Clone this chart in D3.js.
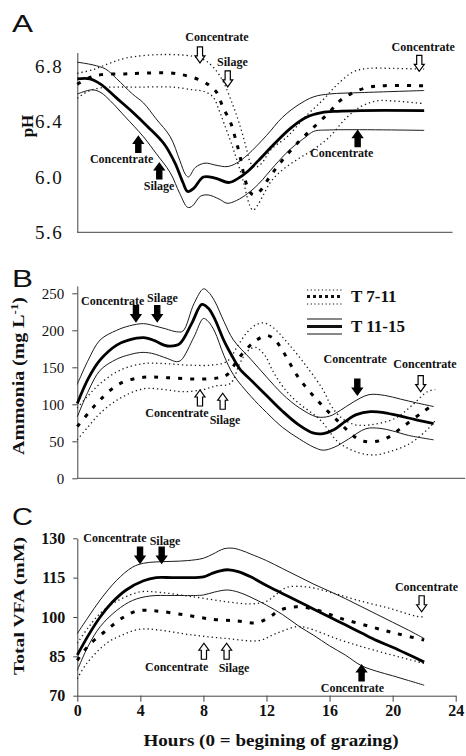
<!DOCTYPE html>
<html>
<head>
<meta charset="utf-8">
<title>Rumen pH, ammonia and VFA</title>
<script src="https://cdnjs.cloudflare.com/ajax/libs/d3/7.8.5/d3.min.js"></script>
<style>
  body { margin: 0; background: #fff; }
  svg text { font-family: "Liberation Serif", "Times New Roman", serif; fill: #111; }
  .domain, .tick line { stroke: #444; }
</style>
</head>
<body>
<svg id="chart" width="466" height="756"></svg>
<script>
// ---- data: [hour, value] ----
// A: pH
const phT1115Mean = [[0,6.71],[0.8,6.71],[1.5,6.67],[2.5,6.57],[3.5,6.47],[4.5,6.36],[5.5,6.24],[6.2,6.1],[6.7,5.96],[7,5.895],[7.4,5.92],[8,6.0],[8.8,5.99],[9.6,5.96],[10.2,5.99],[10.8,6.04],[11.5,6.12],[12.5,6.24],[13.5,6.35],[14.5,6.43],[15.5,6.465],[16.5,6.475],[18,6.48],[22,6.48]]
const phT1115Upper = [[0,6.83],[1,6.81],[1.8,6.78],[2.5,6.71],[3.5,6.6],[4.2,6.535],[5,6.42],[5.9,6.29],[6.5,6.12],[6.85,6.02],[7.05,6.0],[7.5,6.07],[8.1,6.1],[8.8,6.085],[9.5,6.075],[10.1,6.1],[10.8,6.16],[12,6.3],[13,6.43],[14,6.52],[15,6.58],[16,6.6],[18,6.61],[22,6.625]]
const phT1115Lower = [[0,6.6],[0.5,6.62],[1,6.63],[1.5,6.61],[2.1,6.55],[3,6.44],[4.2,6.29],[5,6.17],[5.9,6.03],[6.5,5.88],[7,5.78],[7.3,5.79],[7.8,5.86],[8.3,5.87],[9,5.84],[9.5,5.81],[10.1,5.83],[10.8,5.88],[11.5,5.95],[12.5,6.08],[13.5,6.2],[14.5,6.29],[15,6.33],[16,6.34],[22,6.337]]
const phT711Mean = [[0,6.67],[0.8,6.72],[1.5,6.74],[3,6.745],[4,6.75],[5.9,6.752],[6.9,6.733],[7.8,6.7],[8.4,6.66],[8.85,6.61],[9.25,6.5],[9.7,6.4],[10,6.29],[10.3,6.16],[10.6,6.0],[10.9,5.9],[11.2,5.87],[11.6,5.9],[12.2,6.0],[13,6.12],[14,6.25],[15,6.36],[16,6.47],[16.65,6.55],[17.5,6.61],[18.5,6.65],[19.5,6.66],[22,6.66]]
const phT711Upper = [[0,6.75],[1,6.776],[2,6.82],[3.1,6.86],[5.2,6.885],[7.35,6.872],[8.2,6.836],[9.05,6.73],[9.9,6.51],[10.4,6.34],[10.74,6.2],[11,6.1],[11.3,6.07],[11.7,6.1],[12.3,6.2],[13.3,6.29],[14.5,6.44],[15.6,6.56],[16.5,6.67],[17.5,6.76],[18.4,6.785],[20,6.785],[22,6.78]]
const phT711Lower = [[0,6.57],[0.7,6.62],[1.5,6.645],[2.5,6.65],[4,6.65],[6,6.65],[7.35,6.63],[8,6.62],[8.6,6.58],[9,6.48],[9.3,6.39],[9.9,6.2],[10.5,5.98],[10.95,5.79],[11.15,5.76],[11.4,5.79],[11.8,5.87],[12.3,5.97],[13,6.05],[14,6.13],[15,6.2],[16,6.29],[17,6.42],[18,6.51],[19,6.55],[20,6.55],[22,6.53]]

// B: ammonia (mg/L)
const nhT1115Mean = [[0,101],[0.7,135],[1.45,160],[2.5,180],[3.3,187],[4.2,190],[4.9,186],[5.5,180],[5.9,178.5],[6.5,182],[7.25,209],[7.9,235],[8.3,230],[8.7,216],[9.3,186],[9.9,162],[10.3,148],[11,133],[12,112],[13,91],[14,73],[15,61],[15.6,60.5],[16.3,66],[17,77],[17.7,86],[18.6,90],[19.5,88.5],[20.5,84],[21.5,79],[22.6,74]]
const nhT1115Upper = [[0,127],[0.7,160],[1.45,187],[2.5,200],[3.3,206],[4.2,209],[4.9,206],[5.6,202],[6.3,198],[6.7,199],[7.4,236],[8,256],[8.3,252],[8.7,240],[9.3,212],[9.9,187],[11,161],[12,137],[13,114],[14.1,95],[15.2,83],[16,84],[16.7,92],[17.5,103],[18.5,113],[19.5,112],[20.5,107],[21.5,102],[22.6,97]]
const nhT1115Lower = [[0,83],[0.7,118],[1.45,146],[2.5,161],[3.3,167],[4,170],[4.7,169],[5.7,162],[6.3,157.6],[6.6,160],[7.4,191],[8,216],[8.3,212],[8.7,199],[9.3,166],[9.9,140],[11,111],[12,89],[13,69],[14.1,53],[15,42],[15.6,38],[16.3,42],[17.2,53],[18.3,67],[19.2,67.5],[20,64],[21,58],[22.6,52]]
const nhT711Mean = [[0,70],[0.7,88],[1.45,106],[2.7,128],[4.2,136.5],[5.7,136],[7.8,134],[9,136],[9.5,140],[10.3,164],[11.2,184],[12,193],[12.5,188],[13.06,171],[14,137],[15.2,106],[16.45,79],[17.9,52],[18.8,49.5],[19.6,54],[20.67,70],[21.94,90],[22.7,101]]
const nhT711Upper = [[0,95],[0.7,112],[1.45,128],[2.7,146],[4.2,155],[5.5,155],[7,153],[8.5,153],[9.5,158],[10.2,180],[10.8,198],[11.3,207],[11.8,210],[12.4,204],[13.38,182],[14.55,151],[15.6,119],[16.02,101],[16.45,88],[17,78],[17.7,72],[18.5,72],[19.3,75],[20.25,82],[21.2,98],[22.2,117],[22.7,120]]
const nhT711Lower = [[0,52],[0.7,70],[1.45,88],[2.7,108],[4.2,121],[5.5,120],[6.7,117],[8,120],[8.8,125],[9.7,128],[10.3,155],[10.8,172],[11.3,177],[11.9,166],[12.4,145],[13.1,122],[13.9,104],[15.4,79],[16.6,48],[17.8,35],[18.8,31.5],[19.8,36],[21.1,47],[22.4,70],[22.7,78]]

// C: total VFA (mM)
const vfaT1115Mean = [[0,85.5],[0.7,93],[1.45,100],[2.2,105.5],[3.1,110.3],[4.2,113.8],[5,115],[6,115],[7,115],[8,115.3],[8.5,116.5],[9,117.5],[9.6,118],[10.2,117.3],[11,115.3],[12,112],[13,109],[14,106],[15,103],[16,100],[17,97],[18,94],[19,91],[20,88.5],[21,85.7],[22,82.8]]
const vfaT1115Upper = [[0,93.7],[0.7,100],[1.45,106.5],[2.5,114],[3.5,119],[4.2,120.5],[5,121],[6,121.2],[7,121.5],[8,122.4],[8.6,124],[9.3,126],[9.9,126.2],[10.5,125.2],[11,124],[12,121.5],[13,118.5],[14,115.5],[15,112.5],[16,109.8],[17,107],[18,104],[19,101],[20,98],[21,95],[22,91.8]]
const vfaT1115Lower = [[0,79.7],[0.7,89],[1.45,96.3],[2.5,102.5],[3.5,106.3],[4.6,108],[6,108.2],[7.5,108.2],[8,108.4],[8.7,109.5],[9.5,110.3],[10.2,109.5],[10.95,107.7],[12,104.5],[13,101],[14.1,96.3],[15,93],[16,89],[17,85.5],[18,81.5],[19,79.3],[20,77.6],[21,75.8],[22,74]]
const vfaT711Mean = [[0,83.5],[0.7,89],[1.86,95],[2.9,99.8],[3.8,102.3],[5,102.3],[6.9,100.7],[8.6,99.1],[10.1,98.5],[11.4,97.8],[12.2,100],[12.85,102.6],[13.9,103.9],[15.2,102.6],[16.7,99.5],[18.6,96.3],[20.25,93.7],[22,91.2]]
const vfaT711Upper = [[0,90],[0.7,96],[1.45,101.4],[2.5,106],[4,109.6],[5.2,109.4],[7.35,107.7],[9.5,105.8],[11,105],[12,106],[12.7,109],[13.3,111.3],[14.5,111.5],[16,109.5],[17.7,106.5],[19.8,103.3],[21.5,100.3],[22,100]]
const vfaT711Lower = [[0,76.5],[0.6,82.3],[1.86,90],[3,93.5],[4,95.4],[5.2,95],[7.35,93.1],[9.5,91.8],[11.5,91],[12.6,93.7],[13.9,96.3],[14.5,96],[16.7,91.2],[18.8,87.4],[22,82.3]]

const yTicksA = [5.6, 6.0, 6.4, 6.8]
const yTicksB = [0, 50, 100, 150, 200, 250]
const yTicksC = [70, 85, 100, 115, 130]
const xTicks = [0, 4, 8, 12, 16, 20, 24]

const legendLabels = ["T 7-11", "T 11-15"]

// feeding annotations: [hour, value of tip, kind, direction]
// kind: "filled" / "hollow"; labels: [text, hour of centre, value of baseline]
const arrowsA = [[7.78, 6.825, "hollow", "down"], [9.54, 6.651, "hollow", "down"], [21.69, 6.764, "hollow", "down"],
                 [3.87, 6.294, "filled", "up"], [5.2, 6.101, "filled", "up"], [17.78, 6.335, "filled", "up"]]
const labelsA = [["Concentrate", 8.86, 6.98], ["Silage", 9.84, 6.8], ["Concentrate", 21.94, 6.908],
                 ["Concentrate", 2.81, 6.101], ["Silage", 5.19, 5.908], ["Concentrate", 16.77, 6.145]]
const arrowsB = [[3.72, 211.6, "filled", "down"], [5.07, 211.6, "filled", "down"], [7.78, 119.3, "hollow", "up"],
                 [9.22, 114.9, "hollow", "up"], [17.76, 112.6, "filled", "down"], [21.78, 117, "hollow", "down"]]
const labelsB = [["Concentrate", 2.25, 234.2], ["Silage", 5.4, 238.6], ["Concentrate", 6.32, 82.4],
                 ["Silage", 9.37, 73.4], ["Concentrate", 17.63, 155.4], ["Concentrate", 22.05, 148.6]]
const arrowsC = [[3.98, 120.5, "filled", "down"], [5.35, 120.5, "filled", "down"], [8.03, 90, "hollow", "up"],
                 [9.47, 90, "hollow", "up"], [21.84, 102, "hollow", "down"], [18.03, 81.7, "filled", "up"]]
const labelsC = [["Concentrate", 2.39, 128.7], ["Silage", 5.56, 127.4], ["Concentrate", 6.3, 79.5],
                 ["Silage", 9.94, 79.1], ["Concentrate", 22.15, 110], ["Concentrate", 17.45, 71.5]]

// ---- drawing ----
const svg = d3.select("#chart")
const x = d3.scaleLinear().domain([0, 24]).range([77.3, 455.7])

const panels = [
  {letter: "A", letterY: 32, y: d3.scaleLinear().domain([5.6, 6.9]).range([232.3, 52.5]),
   ticks: yTicksA, fmt: d3.format(".1f"), tickSize: 0, pad: 14, tickFont: "19px", tickWeight: "normal", spacing: "1.5px",
   xEnd: 23.8, title: "pH", titleX: 33, titleY: 126, titleSize: 17, titleLen: null,
   mean: [phT1115Mean, phT711Mean], band: [phT1115Upper, phT1115Lower, phT711Upper, phT711Lower],
   arrows: arrowsA, labels: labelsA},
  {letter: "B", letterY: 287, y: d3.scaleLinear().domain([0, 260]).range([478.3, 285.9]),
   ticks: yTicksB, fmt: d3.format("d"), tickSize: 5, pad: 8, tickFont: "15px", tickWeight: "normal", spacing: "0px",
   xEnd: 24.6, title: "Ammonia (mg L", titleX: 24, titleY: 376, titleSize: 17, titleLen: 158,
   mean: [nhT1115Mean, nhT711Mean], band: [nhT1115Upper, nhT1115Lower, nhT711Upper, nhT711Lower],
   arrows: arrowsB, labels: labelsB},
  {letter: "C", letterY: 525, y: d3.scaleLinear().domain([70, 130]).range([695.7, 538.3]),
   ticks: yTicksC, fmt: d3.format("d"), tickSize: 4, pad: 8, tickFont: "16px", tickWeight: "bold", spacing: "0px",
   xEnd: 24, title: "Total VFA (mM)", titleX: 24, titleY: 606, titleSize: 15, titleLen: 138,
   mean: [vfaT1115Mean, vfaT711Mean], band: [vfaT1115Upper, vfaT1115Lower, vfaT711Upper, vfaT711Lower],
   arrows: arrowsC, labels: labelsC}
]

function arrowPath(dir){
  // tip at 0,0; body goes away from the tip
  const s = dir === "down" ? -1 : 1
  const pts = [[0,0],[-5,7],[-2.6,7],[-2.6,16],[2.6,16],[2.6,7],[5,7]]
  return "M" + pts.map(p => p[0] + "," + (p[1] * s)).join("L") + "Z"
}

panels.forEach(function(p){
  const g = svg.append("g")
  const line = d3.line()
                 .x(d => x(d[0]))
                 .y(d => p.y(d[1]))
                 .curve(d3.curveCatmullRom.alpha(0.5))

  g.append("text")
   .attr("x", 12).attr("y", p.letterY)
   .style("font-family", "'Liberation Sans', Arial, sans-serif")
   .style("font-size", "23px")
   .attr("textLength", 21).attr("lengthAdjust", "spacingAndGlyphs")
   .text(p.letter)

  // y axis
  const ya = g.append("g")
              .attr("transform", "translate(" + x(0) + ",0)")
              .call(d3.axisLeft(p.y).tickValues(p.ticks).tickFormat(p.fmt)
                      .tickSize(p.tickSize).tickSizeOuter(0).tickPadding(p.pad))
  ya.selectAll("text")
    .style("font-family", "'Liberation Serif', serif")
    .style("font-size", p.tickFont)
    .style("font-weight", p.tickWeight)
    .style("letter-spacing", p.spacing)
    .attr("fill", "#111")

  // x axis line
  if(p.letter !== "C"){
    g.append("line")
     .attr("x1", x(0)).attr("x2", x(p.xEnd))
     .attr("y1", p.y.range()[0]).attr("y2", p.y.range()[0])
     .attr("stroke", "#444")
  } else {
    const xa = g.append("g")
                .attr("transform", "translate(0," + p.y.range()[0] + ")")
                .call(d3.axisBottom(x).tickValues(xTicks).tickFormat(d3.format("d"))
                        .tickSize(6).tickSizeOuter(0).tickPadding(3))
    xa.selectAll("text")
      .style("font-size", "16px")
      .style("font-weight", "bold")
      .attr("fill", "#111")
  }

  // y title
  const t = g.append("text")
             .attr("transform", "translate(" + p.titleX + "," + p.titleY + ") rotate(-90)")
             .attr("text-anchor", "middle")
             .style("font-size", p.titleSize + "px")
             .style("font-weight", "bold")
  if(p.titleLen) t.attr("textLength", p.titleLen).attr("lengthAdjust", "spacingAndGlyphs")
  t.append("tspan").text(p.title)
  if(p.letter === "B"){
    t.append("tspan").attr("dy", -6).style("font-size", "11px").text("-1")
    t.append("tspan").attr("dy", 6).text(")")
  }

  // bands: solid thin for T 11-15, dotted thin for T 7-11
  p.band.forEach(function(s, i){
    g.append("path")
     .datum(s)
     .attr("d", line)
     .attr("fill", "none")
     .attr("stroke", "#1a1a1a")
     .attr("stroke-width", i < 2 ? 1 : 1.3)
     .attr("stroke-dasharray", i < 2 ? null : "1.3,3")
  })
  // means
  g.append("path").datum(p.mean[0]).attr("d", line)
   .attr("fill", "none").attr("stroke", "#000").attr("stroke-width", 2.8)
  g.append("path").datum(p.mean[1]).attr("d", line)
   .attr("fill", "none").attr("stroke", "#000").attr("stroke-width", 3)
   .attr("stroke-dasharray", "4,8")

  // arrows
  g.selectAll("path.arrow")
   .data(p.arrows)
   .join("path")
   .attr("class", "arrow")
   .attr("transform", d => "translate(" + x(d[0]) + "," + p.y(d[1]) + ")")
   .attr("d", d => arrowPath(d[3]))
   .attr("fill", d => d[2] === "filled" ? "#000" : "#fff")
   .attr("stroke", "#000")
   .attr("stroke-width", 1.2)

  g.selectAll("text.note")
   .data(p.labels)
   .join("text")
   .attr("class", "note")
   .attr("x", d => x(d[1]))
   .attr("y", d => p.y(d[2]))
   .attr("text-anchor", "middle")
   .style("font-size", "12px")
   .style("font-weight", "bold")
   .text(d => d[0])
})

// legend in panel B
const lg = svg.append("g")
const legY = [[290, 296.5, 304], [319, 326.5, 334]]
legendLabels.forEach(function(name, i){
  const ys = legY[i]
  ys.forEach(function(yy, j){
    lg.append("line")
      .attr("x1", 307).attr("x2", 342).attr("y1", yy).attr("y2", yy)
      .attr("stroke", "#111")
      .attr("stroke-width", j === 1 ? 3 : 1)
      .attr("stroke-dasharray", i === 0 ? (j === 1 ? "3,3" : "1.2,2.5") : null)
  })
  lg.append("text")
    .attr("x", 351).attr("y", ys[1] + 5.5)
    .style("font-size", "17px")
    .style("font-weight", "bold")
    .text(name)
})

// x title
svg.append("text")
   .attr("x", 271).attr("y", 746)
   .attr("text-anchor", "middle")
   .attr("textLength", 255).attr("lengthAdjust", "spacingAndGlyphs")
   .style("font-size", "17px")
   .style("font-weight", "bold")
   .text("Hours (0 = begining of grazing)")
</script>
</body>
</html>
